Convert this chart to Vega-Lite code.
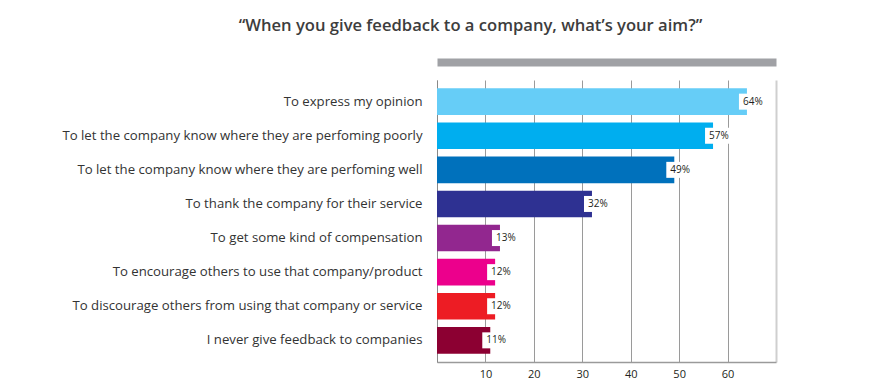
{
  "$schema": "https://vega.github.io/schema/vega-lite/v6.json",
  "width": 339,
  "height": 282,
  "autosize": {"type": "none"},
  "padding": {"left": 437, "top": 80, "right": 96, "bottom": 27},
  "background": "white",
  "title": {
    "text": "“When you give feedback to a company, what’s your aim?”",
    "anchor": "middle",
    "frame": "group",
    "dx": -136,
    "offset": 27,
    "font": "Open Sans",
    "fontSize": 16.6,
    "fontWeight": 600,
    "color": "#3d3d3d"
  },
  "config": {"view": {"stroke": null}},
  "data": {
    "values": [
      {"aim": "To express my opinion", "pct": 64, "label": "64%"},
      {"aim": "To let the company know where they are perfoming poorly", "pct": 57, "label": "57%"},
      {"aim": "To let the company know where they are perfoming well", "pct": 49, "label": "49%"},
      {"aim": "To thank the company for their service", "pct": 32, "label": "32%"},
      {"aim": "To get some kind of compensation", "pct": 13, "label": "13%"},
      {"aim": "To encourage others to use that company/product", "pct": 12, "label": "12%"},
      {"aim": "To discourage others from using that company or service", "pct": 12, "label": "12%"},
      {"aim": "I never give feedback to companies", "pct": 11, "label": "11%"}
    ]
  },
  "encoding": {
    "y": {
      "field": "aim",
      "type": "nominal",
      "sort": null,
      "scale": {"paddingInner": 0.22, "paddingOuter": 0.245},
      "axis": {
        "title": null,
        "ticks": false,
        "domain": true,
        "domainColor": "#888888",
        "labelFont": "Open Sans",
        "labelFontSize": 13.2,
        "labelColor": "#333333",
        "labelPadding": 15,
        "labelLimit": 500
      }
    }
  },
  "layer": [
    {
      "mark": {"type": "bar"},
      "encoding": {
        "x": {
          "field": "pct",
          "type": "quantitative",
          "scale": {"domain": [0, 70], "nice": false},
          "axis": {
            "orient": "bottom",
            "title": null,
            "values": [0, 10, 20, 30, 40, 50, 60, 70],
            "labelExpr": "datum.value == 0 || datum.value == 70 ? '' : datum.label",
            "grid": true,
            "gridColor": {"condition": {"test": "datum.value === 70", "value": "#cfcfcf"}, "value": "#9a9a9a"},
            "gridWidth": {"condition": {"test": "datum.value === 70", "value": 2}, "value": 1},
            "ticks": false,
            "domainColor": "#9a9a9a",
            "domainWidth": 1.5,
            "labelFont": "Open Sans",
            "labelFontSize": 11,
            "labelColor": "#231f20",
            "labelPadding": 6
          }
        },
        "color": {
          "field": "aim",
          "type": "nominal",
          "legend": null,
          "scale": {
            "domain": [
              "To express my opinion",
              "To let the company know where they are perfoming poorly",
              "To let the company know where they are perfoming well",
              "To thank the company for their service",
              "To get some kind of compensation",
              "To encourage others to use that company/product",
              "To discourage others from using that company or service",
              "I never give feedback to companies"
            ],
            "range": ["#66cdf7", "#00aeef", "#0071bc", "#2e3192", "#92278f", "#ec008c", "#ed1c24", "#8c0032"]
          }
        }
      }
    },
    {
      "mark": {"type": "bar", "color": "white", "size": 16, "xOffset": -8, "x2Offset": 18},
      "encoding": {
        "x": {
          "field": "pct",
          "type": "quantitative",
          "axis": {
            "orient": "top",
            "title": null,
            "grid": false,
            "ticks": false,
            "labels": false,
            "domainColor": "#a0a1a5",
            "domainWidth": 8,
            "offset": 18
          }
        },
        "x2": {"field": "pct"}
      }
    },
    {
      "mark": {"type": "text", "align": "left", "dx": -4, "font": "Open Sans", "fontSize": 10, "color": "#231f20"},
      "encoding": {
        "x": {"field": "pct", "type": "quantitative", "axis": null},
        "text": {"field": "label"}
      }
    }
  ],
  "resolve": {"axis": {"x": "independent"}}
}
